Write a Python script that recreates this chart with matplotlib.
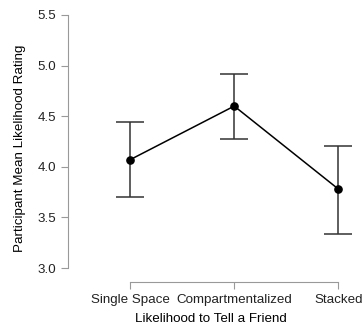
import numpy as np
import matplotlib
matplotlib.use("Agg")
import matplotlib.pyplot as plt

plt.rcParams["font.family"] = ["Liberation Sans", "DejaVu Sans"]

categorias = ["Single Space", "Compartmentalized", "Stacked"]
medias = [4.07, 4.60, 3.78]
erro_sup = [4.44, 4.92, 4.21]
erro_inf = [3.70, 4.27, 3.34]
ticks_y = [3.0, 3.5, 4.0, 4.5, 5.0, 5.5]

x = np.arange(len(categorias))
medias = np.array(medias)
yerr = [medias - np.array(erro_inf), np.array(erro_sup) - medias]

fig = plt.figure(figsize=(3.63, 3.26), dpi=100)
ax = fig.add_axes([68 / 363, 44 / 326, (354 - 68) / 363, (282 - 15) / 326])

ax.errorbar(x, medias, yerr=yerr, fmt="none", ecolor="#333333",
            elinewidth=1.1, capsize=10, capthick=1.1, zorder=2)
ax.plot(x, medias, color="black", linewidth=1.1, marker="o",
        markersize=5.2, zorder=3)

ax.set_xlim(-0.596, 2.15)
ax.set_ylim(2.862, 5.5)
ax.set_xticks(x)
ax.set_xticklabels(categorias, fontsize=9.6)
ax.set_yticks(ticks_y)
ax.set_yticklabels([f"{v:.1f}" for v in ticks_y], fontsize=9.6)

for lado in ["top", "right"]:
    ax.spines[lado].set_visible(False)
ax.spines["left"].set_bounds(3.0, 5.5)
ax.spines["bottom"].set_bounds(0, 2)
for lado in ["left", "bottom"]:
    ax.spines[lado].set_color("#999999")
    ax.spines[lado].set_linewidth(0.8)
ax.tick_params(color="#999999", length=5, width=0.8, labelcolor="#222222")

ax.set_xlabel("Likelihood to Tell a Friend", fontsize=9.6, labelpad=5.5)
ax.set_ylabel("Participant Mean Likelihood Rating", fontsize=9.6, labelpad=8.5)

fig.savefig("out.png", dpi=100)
plt.close(fig)
